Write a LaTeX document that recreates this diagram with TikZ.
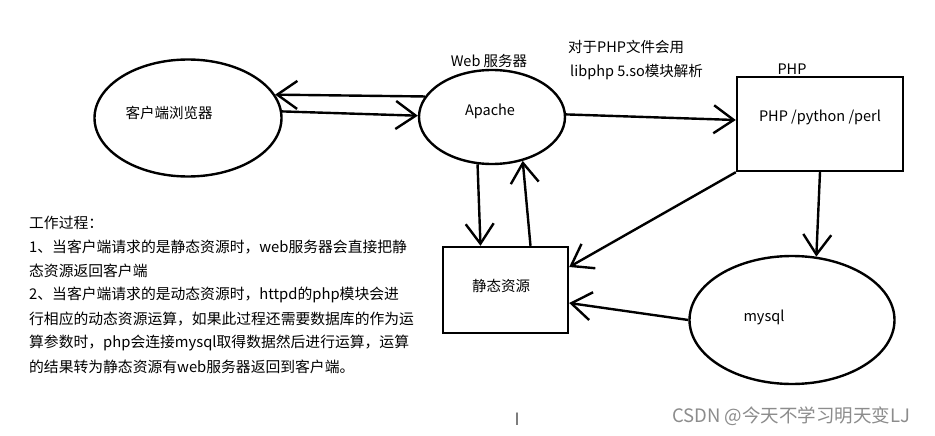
\documentclass[tikz,border=0pt]{standalone}
\usepackage{fontspec}
\setmainfont{Noto Sans CJK SC}
\usetikzlibrary{arrows.meta,shapes.geometric}
\tikzset{
  shapeline/.style={draw=black, line width=2.4pt},
  arr/.style={line width=2.4pt, -{Straight Barb[length=20pt,width=28pt]}},
  lbl/.style={inner sep=0pt, font=\fontsize{14.5}{17}\selectfont},
  para/.style={inner sep=0pt, anchor=west, font=\fontsize{14.8}{17}\selectfont},
}
\begin{document}
\begin{tikzpicture}[x=1pt,y=-1pt]
\useasboundingbox (0,0) rectangle (935,436);
\fill[white] (0,0) rectangle (935,436);
% shapes
\node[ellipse, shapeline, minimum width=187pt, minimum height=117pt] (client) at (188,118) {};
\node[ellipse, shapeline, minimum width=146pt, minimum height=94pt] (apache) at (492,117) {};
\node[rectangle, shapeline, minimum width=166pt, minimum height=94pt] (php) at (820,124) {};
\node[rectangle, shapeline, minimum width=125pt, minimum height=86pt] (static) at (505.5,290) {};
\node[ellipse, shapeline, minimum width=205pt, minimum height=128pt] (mysql) at (792,320) {};
% texts
\node[lbl] (tclient) at (169,113) {客户端浏览器};
\node[lbl] (tapache) at (490,111) {Apache};
\node[lbl] (tweb) at (489,61) {Web 服务器};
\node[lbl, anchor=west] (tnote1) at (568,47) {对于PHP文件会用};
\node[lbl, anchor=west] (tnote2) at (570,72) {libphp 5.so模块解析};
\node[lbl] (tphplbl) at (792,69) {PHP};
\node[lbl] (tphp) at (820,117) {PHP /python /perl};
\node[lbl] (tstatic) at (501,286) {静态资源};
\node[lbl] (tmysql) at (764,317) {mysql};
% paragraph
\node[para] (p1) at (29,223) {工作过程：};
\node[para] (p2) at (29,247) {1、当客户端请求的是静态资源时，web服务器会直接把静};
\node[para] (p3) at (29,271) {态资源返回客户端};
\node[para] (p4) at (29,295) {2、当客户端请求的是动态资源时，httpd的php模块会进};
\node[para] (p5) at (29,319) {行相应的动态资源运算，如果此过程还需要数据库的作为运};
\node[para] (p6) at (29,343) {算参数时，php会连接mysql取得数据然后进行运算，运算};
\node[para] (p7) at (29,367) {的结果转为静态资源有web服务器返回到客户端。};
% watermark and cursor
\node[inner sep=0pt, anchor=west, text=black!45, font=\fontsize{18.5}{21}\selectfont] (wm) at (672,416) {CSDN @今天不学习明天变LJ};
\node[inner sep=0pt, text=black!65, font=\fontsize{17}{18}\selectfont\rmfamily] (cursor) at (517,419) {I};
% connectors
\draw[arr] (apache.163) -- (client.15);
\draw[arr] (client.4) -- (apache.179);
\draw[arr] (apache.2) -- ([yshift=4pt]php.west);
\draw[arr] (apache.253) -- ([xshift=-25pt]static.north);
\draw[arr] ([xshift=25pt]static.north) -- (apache.305);
\draw[arr] (php.south west) -- ([yshift=23pt]static.east);
\draw[arr] (php.south) -- (mysql.69);
\draw[arr] (mysql.west) -- ([yshift=-13pt]static.east);
\end{tikzpicture}
\end{document}
